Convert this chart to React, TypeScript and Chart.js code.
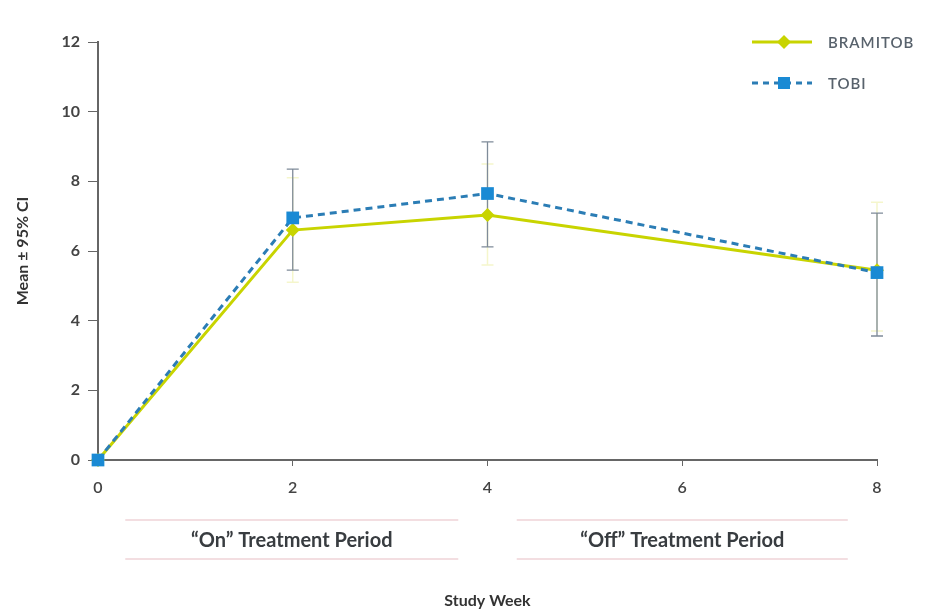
import React, { useEffect, useRef } from "react";
import { Chart, registerables } from "chart.js";
Chart.register(...registerables);

const weeks = [0, 2, 4, 8];
const seriesNames = ["BRAMITOB", "TOBI"];
const bramitobMean = [0, 6.6, 7.03, 5.45];
const bramitobLow = [0, 5.1, 5.6, 3.7];
const bramitobHigh = [0, 8.1, 8.5, 7.4];
const tobiMean = [0, 6.95, 7.65, 5.38];
const tobiLow = [0, 5.45, 6.12, 3.56];
const tobiHigh = [0, 8.35, 9.13, 7.09];
const periodLabels = ["\u201COn\u201D Treatment Period", "\u201COff\u201D Treatment Period"];
const periodStart = [0.28, 4.3];
const periodEnd = [3.7, 7.7];
const xTitle = "Study Week";
const yTitle = "Mean \u00B1 95% CI";

const YELLOW = "#c8d400";
const BLUE = "#1a8ad4";
const BLUE_LINE = "#2b7db5";
const FONT = "Lato, 'Open Sans', sans-serif";

const overlay = {
  id: "overlay",
  beforeDatasetsDraw(chart: any) {
    const { ctx, scales } = chart;
    const x = scales.x, y = scales.y;
    const drawBars = (low: number[], high: number[], color: string, w: number) => {
      ctx.save();
      ctx.strokeStyle = color;
      ctx.lineWidth = w;
      weeks.forEach((wk, i) => {
        if (high[i] === low[i]) return;
        const px = x.getPixelForValue(wk);
        const y1 = y.getPixelForValue(low[i]);
        const y2 = y.getPixelForValue(high[i]);
        ctx.beginPath();
        ctx.moveTo(px, y1); ctx.lineTo(px, y2);
        ctx.moveTo(px - 6, y1); ctx.lineTo(px + 6, y1);
        ctx.moveTo(px - 6, y2); ctx.lineTo(px + 6, y2);
        ctx.stroke();
      });
      ctx.restore();
    };
    drawBars(bramitobLow, bramitobHigh, "rgba(225,228,110,0.35)", 1.5);
    drawBars(tobiLow, tobiHigh, "#7f8b99", 1.3);
  },
  afterDraw(chart: any) {
    const { ctx, scales } = chart;
    const x = scales.x;
    ctx.save();
    periodLabels.forEach((lab, i) => {
      const x1 = x.getPixelForValue(periodStart[i]);
      const x2 = x.getPixelForValue(periodEnd[i]);
      ctx.strokeStyle = "#efd3d8";
      ctx.lineWidth = 1.5;
      ctx.beginPath();
      ctx.moveTo(x1, 520); ctx.lineTo(x2, 520);
      ctx.moveTo(x1, 559); ctx.lineTo(x2, 559);
      ctx.stroke();
      ctx.fillStyle = "#383c40";
      ctx.font = `bold 20px ${FONT}`;
      ctx.textAlign = "center";
      ctx.textBaseline = "middle";
      ctx.fillText(lab, (x1 + x2) / 2, 541);
    });
    const lx1 = 752, lx2 = 812, mx = 784, tx = 828;
    const ys = [42, 83];
    ctx.strokeStyle = YELLOW;
    ctx.lineWidth = 3;
    ctx.setLineDash([]);
    ctx.beginPath(); ctx.moveTo(lx1, ys[0]); ctx.lineTo(lx2, ys[0]); ctx.stroke();
    ctx.fillStyle = YELLOW;
    ctx.beginPath();
    ctx.moveTo(mx, ys[0] - 7); ctx.lineTo(mx + 7, ys[0]); ctx.lineTo(mx, ys[0] + 7); ctx.lineTo(mx - 7, ys[0]);
    ctx.closePath(); ctx.fill();
    ctx.strokeStyle = BLUE_LINE;
    ctx.setLineDash([6, 5]);
    ctx.beginPath(); ctx.moveTo(lx1, ys[1]); ctx.lineTo(lx2, ys[1]); ctx.stroke();
    ctx.setLineDash([]);
    ctx.fillStyle = BLUE;
    ctx.fillRect(mx - 6, ys[1] - 6, 12, 12);
    ctx.fillStyle = "#58626c";
    ctx.font = `600 15px ${FONT}`;
    ctx.textAlign = "left";
    ctx.textBaseline = "middle";
    (ctx as any).letterSpacing = "1px";
    ctx.fillText(seriesNames[0], tx, ys[0] + 1);
    ctx.fillText(seriesNames[1], tx, ys[1] + 1);
    ctx.restore();
  },
};

export default function App() {
  const ref = useRef<HTMLCanvasElement>(null);
  useEffect(() => {
    if (!ref.current) return;
    const chart = new Chart(ref.current, {
      type: "line",
      data: {
        datasets: [
          {
            label: seriesNames[1],
            data: weeks.map((w, i) => ({ x: w, y: tobiMean[i] })),
            borderColor: BLUE_LINE,
            backgroundColor: BLUE,
            borderWidth: 3,
            borderDash: [7, 5],
            pointStyle: "rect",
            pointRadius: 9,
            pointBorderWidth: 0,
            pointBackgroundColor: BLUE,
            clip: false,
            order: 0,
          },
          {
            label: seriesNames[0],
            data: weeks.map((w, i) => ({ x: w, y: bramitobMean[i] })),
            borderColor: YELLOW,
            backgroundColor: YELLOW,
            borderWidth: 3,
            pointStyle: "rectRot",
            pointRadius: 7,
            pointBorderWidth: 0,
            pointBackgroundColor: YELLOW,
            clip: false,
            order: 1,
          },
        ],
      },
      options: {
        animation: false,
        responsive: true,
        maintainAspectRatio: false,
        layout: { padding: { top: 42, right: 72, left: 0, bottom: 0 } },
        plugins: { legend: { display: false }, tooltip: { enabled: false } },
        scales: {
          x: {
            type: "linear",
            min: 0,
            max: 8,
            ticks: { stepSize: 2, padding: 12, color: "#444", font: { family: FONT, size: 16, weight: "600" } },
            grid: { display: true, drawOnChartArea: false, drawTicks: true, tickLength: 6, tickColor: "#666" },
            border: { display: true, color: "#666", width: 2 },
            title: { display: true, text: xTitle, color: "#333", font: { family: FONT, size: 16, weight: "bold" }, padding: { top: 0, bottom: 4 } },
            afterFit: (s: any) => { s.height = 154; },
          },
          y: {
            min: 0,
            max: 12,
            ticks: { stepSize: 2, padding: 8, color: "#444", font: { family: FONT, size: 16, weight: "bold" } },
            grid: { display: true, drawOnChartArea: false, drawTicks: true, tickLength: 10, tickColor: "#666" },
            border: { display: true, color: "#666", width: 2 },
            title: { display: true, text: yTitle, color: "#333", font: { family: FONT, size: 16, weight: "bold" }, padding: { top: 13, bottom: 0 } },
            afterFit: (s: any) => { s.width = 98; },
          },
        },
      },
      plugins: [overlay],
    } as any);
    return () => chart.destroy();
  }, []);
  return (
    <div style={{ position: "absolute", left: 0, top: 0, width: 949, height: 614, background: "#fff" }}>
      <canvas ref={ref} />
    </div>
  );
}
